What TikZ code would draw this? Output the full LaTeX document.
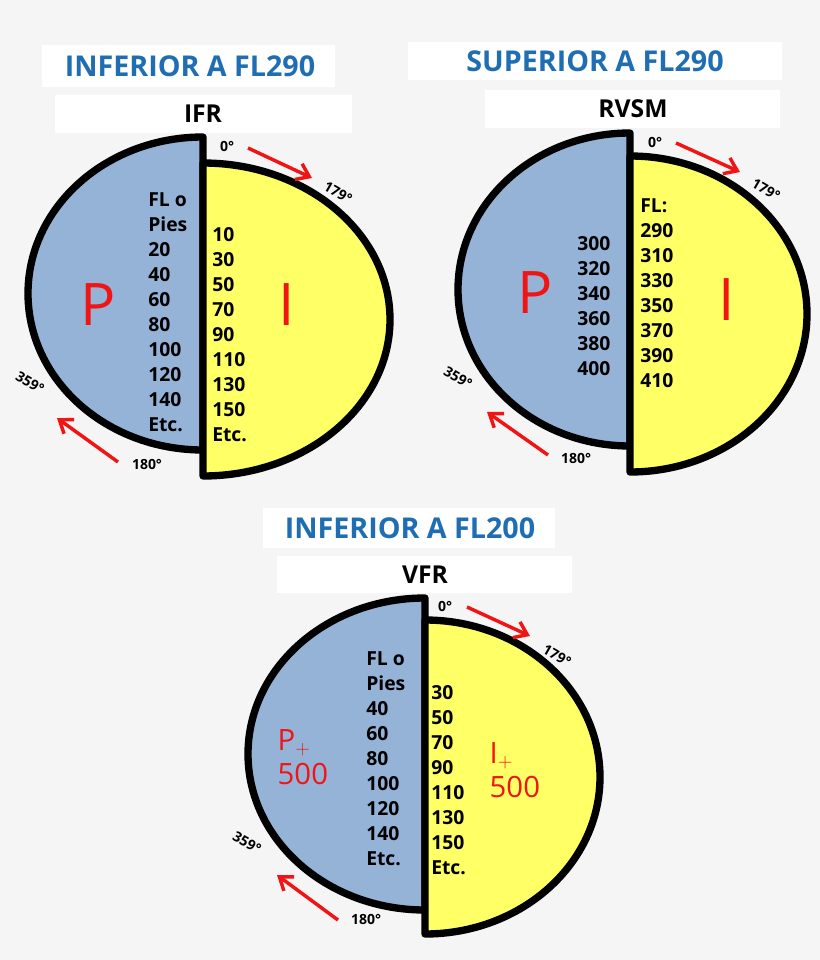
\documentclass[tikz,border=0pt]{standalone}
\usepackage{fontspec}
\setmainfont{Open Sans}
\usetikzlibrary{arrows.meta}
\definecolor{bg}{RGB}{245,245,245}
\definecolor{pblue}{RGB}{149,179,215}
\definecolor{pyel}{RGB}{255,255,102}
\definecolor{ttl}{RGB}{31,110,180}
\definecolor{rd}{RGB}{240,20,20}
\tikzset{
 half/.style={draw=black,line width=5.5pt,line join=round},
 tbox/.style={fill=white,draw=none},
 ttext/.style={font=\fontsize{21.5}{24}\selectfont\bfseries,text=ttl},
 htext/.style={font=\fontsize{18.5}{21}\selectfont\bfseries},
 col/.style={anchor=west,align=left,font=\fontsize{14.5}{18.75}\selectfont\bfseries,inner sep=0pt},
 deg/.style={font=\fontsize{10.5}{12}\selectfont\bfseries},
 rarr/.style={draw=rd,line width=2.6pt,-{Straight Barb[length=9pt,width=13pt,line width=2.6pt]}},
 big/.style={text=rd,font=\fontsize{44}{46}\selectfont},
 mid/.style={text=rd,font=\fontsize{22}{25}\selectfont,align=left,anchor=west},
}
\begin{document}
\begin{tikzpicture}[x=0.75pt,y=-0.75pt]
\fill[bg] (0,0) rectangle (820,960);
\useasboundingbox (0,0) rectangle (820,960);
% titles
\fill[tbox] (42,45) rectangle (335,87); \node[ttext] (t1) at (190,66) {INFERIOR A FL290};
\fill[tbox] (55,95) rectangle (352,133); \node[htext] (h1) at (203,114) {IFR};
\fill[tbox] (408,42) rectangle (782,80); \node[ttext] (t2) at (595,61) {SUPERIOR A FL290};
\fill[tbox] (485,90) rectangle (780,128); \node[htext] (h2) at (633,109) {RVSM};
\fill[tbox] (263,508) rectangle (555,548); \node[ttext] (t3) at (410,528) {INFERIOR A FL200};
\fill[tbox] (277,556) rectangle (572,593); \node[htext] (h3) at (425,575) {VFR};
% circle 1
\draw[half,fill=pblue] (203,450) arc[start angle=90,end angle=270,x radius=175,y radius=156.5] -- cycle;
\draw[half,fill=pyel] (203,476) arc[start angle=90,end angle=-90,x radius=187,y radius=156.5] -- cycle;
\node[col] (l1) at (148,312) {FL o\\Pies\\20\\40\\60\\80\\100\\120\\140\\Etc.};
\node[col] (r1) at (212,335) {10\\30\\50\\70\\90\\110\\130\\150\\Etc.};
\node[big] (p1) at (98,305) {P};
\node[big] (i1) at (287,305) {I};
\node[deg] (a0) at (227,146) {0°};
\node[deg,rotate=-30] (a179) at (338,193) {179°};
\node[deg,rotate=-30] (a359) at (30,383) {359°};
\node[deg] (a180) at (147,464) {180°};
\coordinate (s1) at (248,148); \coordinate (e1) at (312,178);
\coordinate (s2) at (118,462); \coordinate (e2) at (57,418);
\draw[rarr] (s1) -- (e1); \draw[rarr] (s2) -- (e2);
% circle 2
\draw[half,fill=pblue] (630,446) arc[start angle=90,end angle=270,x radius=172,y radius=156.5] -- cycle;
\draw[half,fill=pyel] (630,472) arc[start angle=90,end angle=-90,x radius=177,y radius=158] -- cycle;
\node[col] (l2) at (577,306) {300\\320\\340\\360\\380\\400};
\node[col] (r2) at (640,293) {FL:\\290\\310\\330\\350\\370\\390\\410};
\node[big] (p2) at (535,293) {P};
\node[big] (i2) at (727,300) {I};
\node[deg] (b0) at (655,142) {0°};
\node[deg,rotate=-30] (b179) at (766,190) {179°};
\node[deg,rotate=-30] (b359) at (458,378) {359°};
\node[deg] (b180) at (576,458) {180°};
\coordinate (s3) at (676,143); \coordinate (e3) at (740,172);
\coordinate (s4) at (548,455); \coordinate (e4) at (487,412);
\draw[rarr] (s3) -- (e3); \draw[rarr] (s4) -- (e4);
% circle 3
\draw[half,fill=pblue] (425,910) arc[start angle=90,end angle=270,x radius=177,y radius=156] -- cycle;
\draw[half,fill=pyel] (425,934) arc[start angle=90,end angle=-90,x radius=175,y radius=157] -- cycle;
\node[col] (l3) at (366,759) {FL o\\Pies\\40\\60\\80\\100\\120\\140\\Etc.};
\node[col] (r3) at (431,780) {30\\50\\70\\90\\110\\130\\150\\Etc.};
\node[mid] (p3) at (273,757) {P$_{\scriptstyle +}$\\500};
\node[mid] (i3) at (485,770) {I$_{\scriptstyle +}$\\500};
\node[deg] (c0) at (445,606) {0°};
\node[deg,rotate=-30] (c179) at (557,656) {179°};
\node[deg,rotate=-30] (c359) at (247,843) {359°};
\node[deg] (c180) at (366,919) {180°};
\coordinate (s5) at (467,607); \coordinate (e5) at (530,636);
\coordinate (s6) at (338,920); \coordinate (e6) at (277,875);
\draw[rarr] (s5) -- (e5); \draw[rarr] (s6) -- (e6);
\end{tikzpicture}
\end{document}
